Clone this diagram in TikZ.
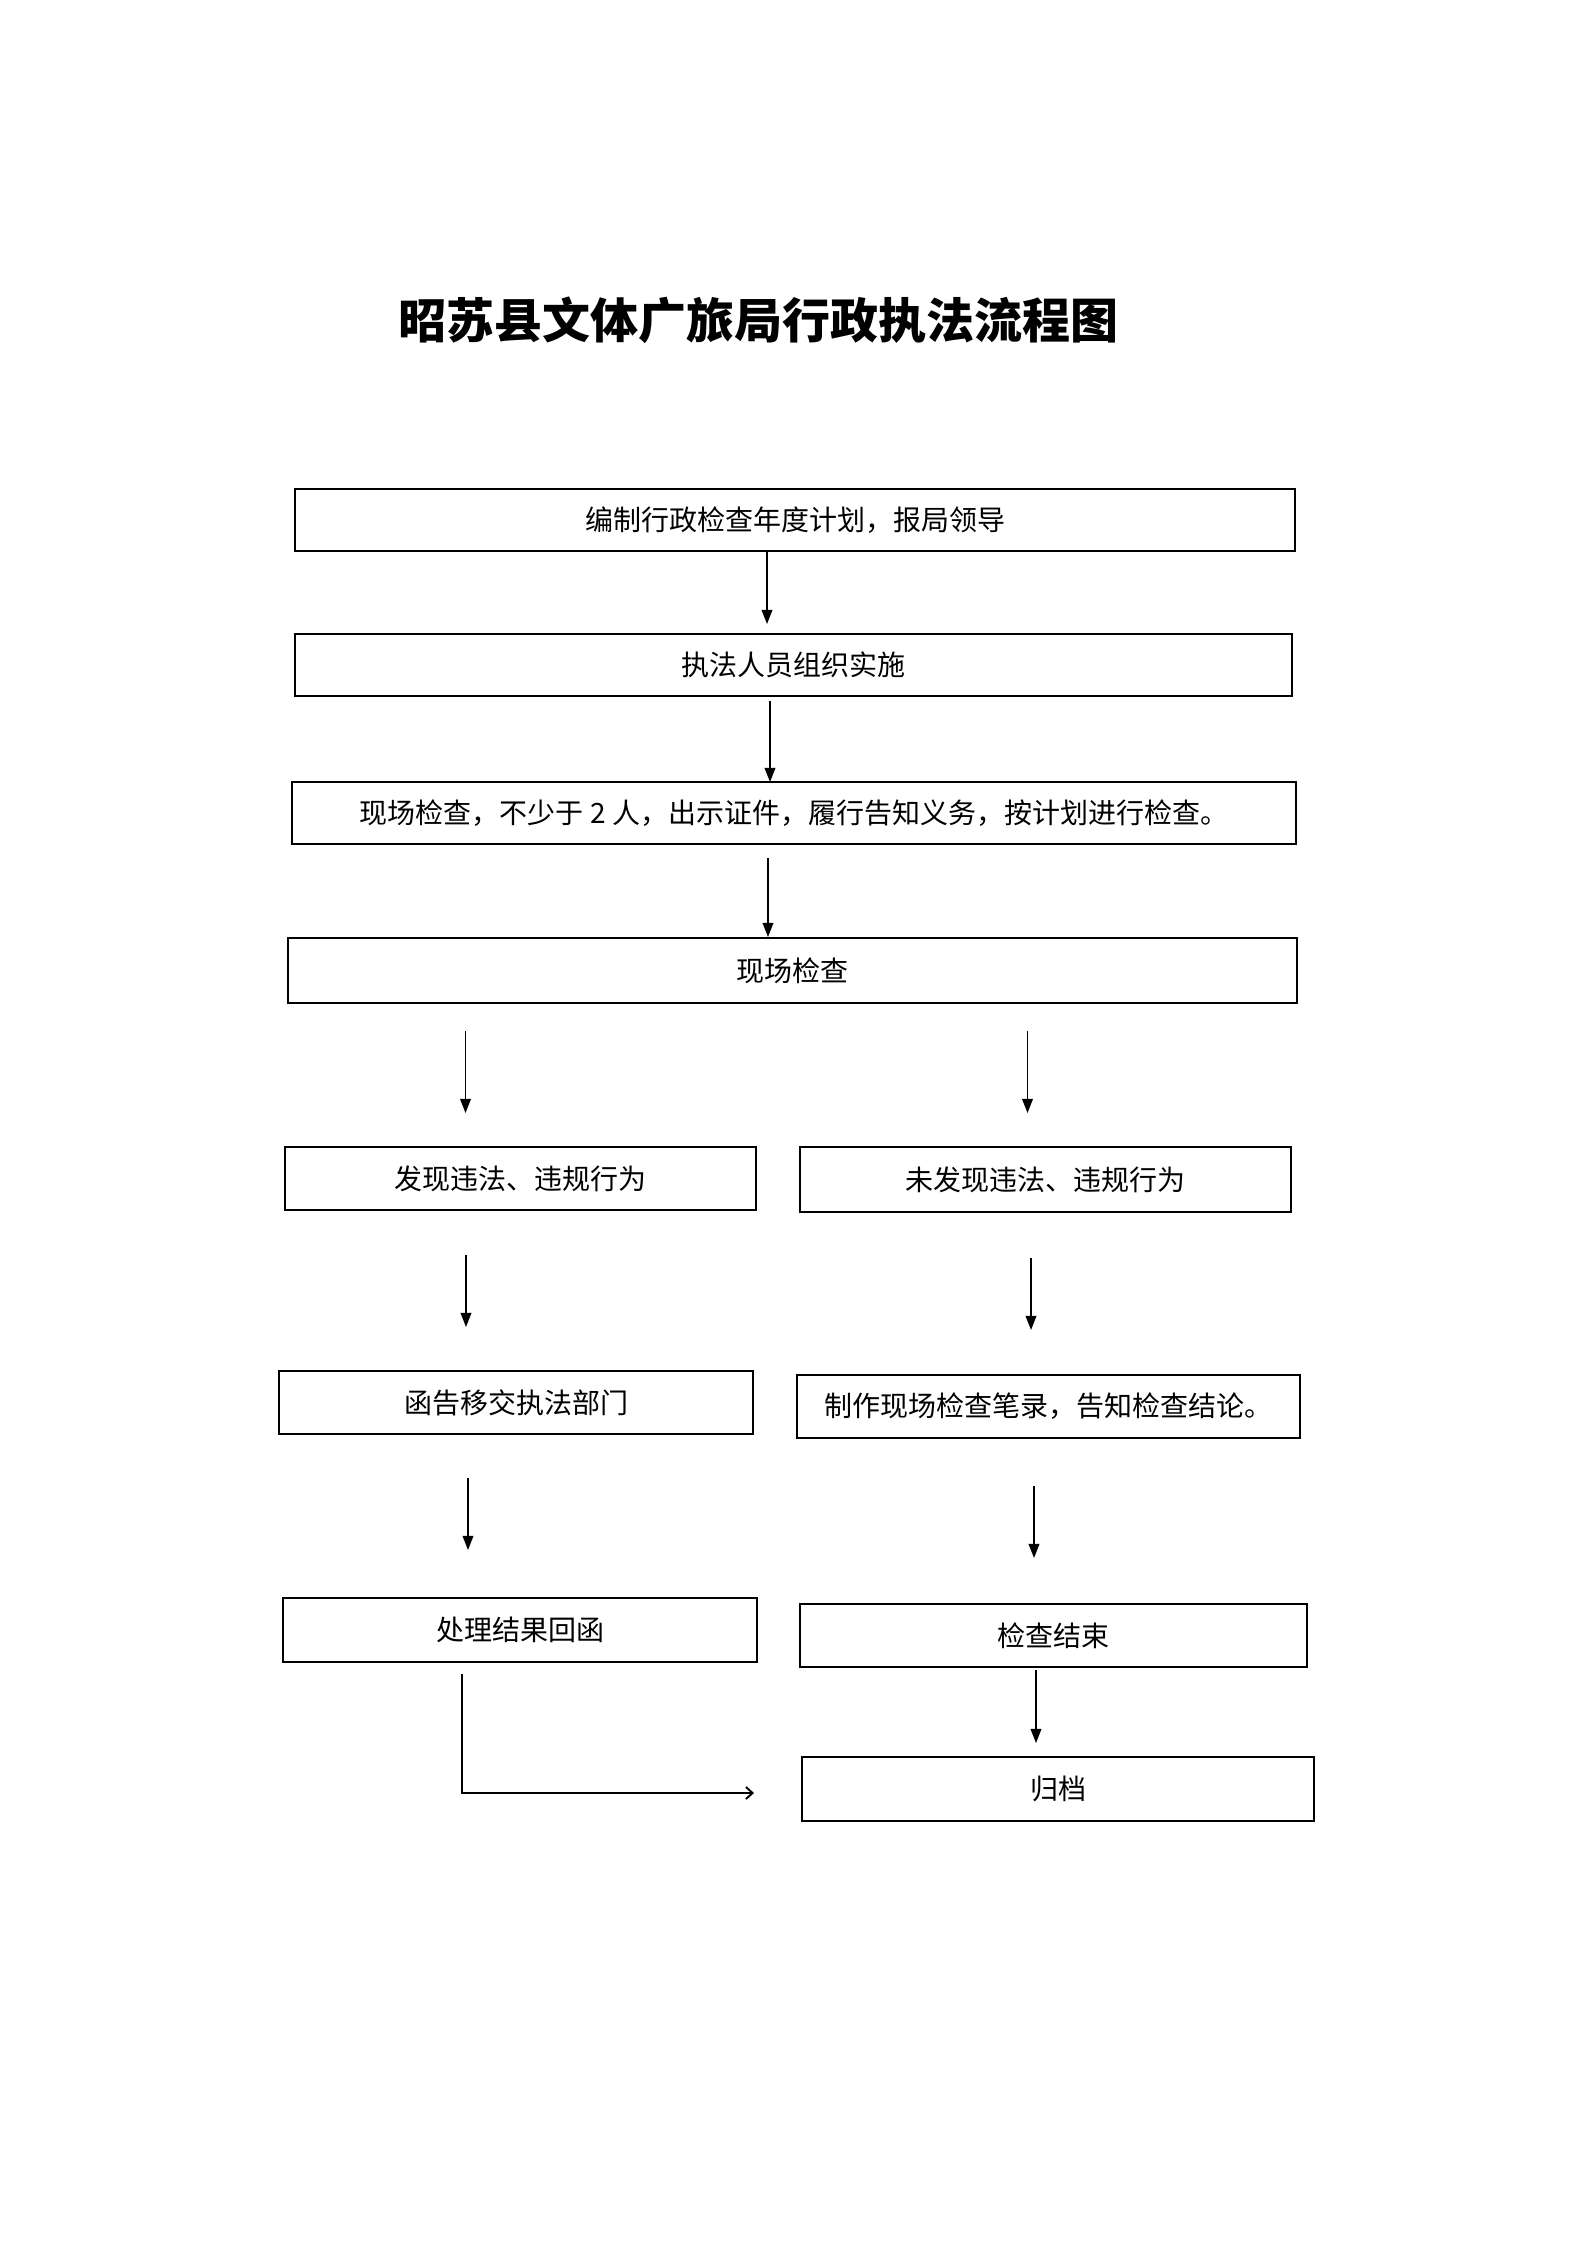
\documentclass[tikz,border=0pt]{standalone}
\usepackage{fontspec}
\setmainfont{Noto Sans CJK SC}
\usetikzlibrary{arrows.meta}
\tikzset{
  box/.style={draw, line width=0.8pt, inner sep=0pt, outer sep=0pt, font=\fontsize{10.5pt}{12pt}\selectfont},
  sz/.style 2 args={minimum width=#1*0.375pt, minimum height=#2*0.375pt},
  arr/.style={line width=0.6pt, -{Triangle[length=5.3pt, width=4pt]}},
  elbow/.style={line width=0.7pt, -{Straight Barb[length=2.5pt, width=4.5pt]}}
}
\begin{document}
\begin{tikzpicture}[x=0.375pt, y=-0.375pt]
\useasboundingbox (0,0) rectangle (1587,2245);
\node[font=\bfseries\fontsize{18pt}{20pt}\selectfont] (title) at (758,320) {昭苏县文体广旅局行政执法流程图};

\node[box, sz={1000}{62}] (n1) at (795,520) {编制行政检查年度计划，报局领导};
\node[box, sz={997}{62}] (n2) at (793.5,665) {执法人员组织实施};
\node[box, sz={1004}{62}] (n3) at (794,813) {现场检查，不少于 2 人，出示证件，履行告知义务，按计划进行检查。};
\node[box, sz={1009}{65}] (n4) at (792.5,970.5) {现场检查};
\node[box, sz={471}{63}] (n5) at (520.5,1178.5) {发现违法、违规行为};
\node[box, sz={491}{65}] (n6) at (1045.5,1179.5) {未发现违法、违规行为};
\node[box, sz={474}{63}] (n7) at (516,1402.5) {函告移交执法部门};
\node[box, sz={503}{63}] (n8) at (1048.5,1406.5) {制作现场检查笔录，告知检查结论。};
\node[box, sz={474}{64}] (n9) at (520,1630) {处理结果回函};
\node[box, sz={507}{63}] (n10) at (1053.5,1635.5) {检查结束};
\node[box, sz={512}{64}] (n11) at (1058,1789) {归档};

\coordinate (a1s) at (767,551);   \coordinate (a1e) at (767,624);
\coordinate (a2s) at (770,701);   \coordinate (a2e) at (770,782);
\coordinate (a3s) at (768,858);   \coordinate (a3e) at (768,937);
\coordinate (a4s) at (465.5,1031); \coordinate (a4e) at (465.5,1113);
\coordinate (a5s) at (1027.5,1031); \coordinate (a5e) at (1027.5,1113);
\coordinate (a6s) at (466,1255); \coordinate (a6e) at (466,1327);
\coordinate (a7s) at (1031,1258); \coordinate (a7e) at (1031,1330);
\coordinate (a8s) at (468,1478); \coordinate (a8e) at (468,1550);
\coordinate (a9s) at (1034,1486); \coordinate (a9e) at (1034,1558);
\coordinate (a10s) at (1036,1670); \coordinate (a10e) at (1036,1743);
\coordinate (bs) at (462,1674); \coordinate (be) at (754,1793);

\draw[arr] (a1s) -- (a1e);
\draw[arr] (a2s) -- (a2e);
\draw[arr] (a3s) -- (a3e);
\draw[arr] (a4s) -- (a4e);
\draw[arr] (a5s) -- (a5e);
\draw[arr] (a6s) -- (a6e);
\draw[arr] (a7s) -- (a7e);
\draw[arr] (a8s) -- (a8e);
\draw[arr] (a9s) -- (a9e);
\draw[arr] (a10s) -- (a10e);
\draw[elbow] (bs) |- (be);
\end{tikzpicture}
\end{document}
